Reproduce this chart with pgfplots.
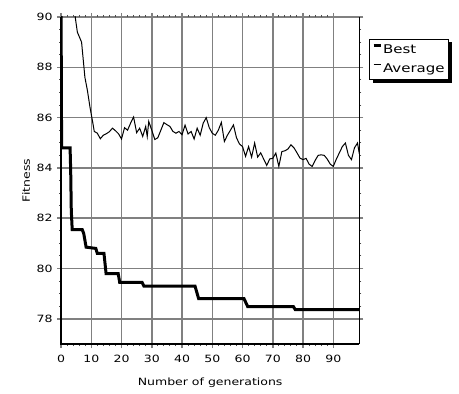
\documentclass[border=0pt]{standalone}
\usepackage{fontspec}
\setmainfont{DejaVu Sans}[FakeStretch=1.25]
\usepackage{pgfplots}
\pgfplotsset{compat=1.18}
\usetikzlibrary{backgrounds}
\definecolor{gridgray}{RGB}{128,128,128}
\begin{document}
\begin{tikzpicture}[x=1bp,y=1bp]
\path[use as bounding box] (0,0) rectangle (459,393);
\begin{axis}[
  name=ax,
  at={(61bp,49bp)}, anchor=south west,
  scale only axis, width=298.3bp, height=327bp,
  xmin=0, xmax=98.6, ymin=77, ymax=90,
  xtick={0,10,...,90}, ytick={78,80,...,90},
  minor x tick num=4, minor y tick num=3,
  tick align=outside,
  major tick length=4bp, minor tick length=2bp,
  every major tick/.style={gridgray, line width=1.5bp},
  every minor tick/.style={black!70, line width=1bp},
  grid=major,
  major grid style={gridgray, line width=1.5bp},
  axis line style={draw=none},
  /pgf/number format/assume math mode=true,
  every tick label/.style={font=\fontsize{10bp}{12bp}\selectfont},
  xticklabel style={yshift=-4bp},
  yticklabel style={xshift=-1bp},
  xlabel={Number of generations},
  ylabel={Fitness},
  xlabel style={font=\fontsize{10bp}{12bp}\selectfont, at={(axis description cs:0.5,0)}, anchor=north, yshift=-30bp},
  ylabel style={font=\fontsize{10bp}{12bp}\selectfont, at={(axis description cs:-0.117,0.5)}, anchor=center},
  legend style={name=leg, at={(rel axis cs:1.033,0.933)}, anchor=north west, draw=black, line width=0.8bp, fill=white,
    font=\fontsize{12bp}{13bp}\selectfont, inner xsep=2.5bp, inner ysep=4.5bp, row sep=6.5bp,
    nodes={inner sep=1bp}},
  legend cell align=left,
  legend image code/.code={\draw[#1] (0bp,4.2bp) -- (7bp,4.2bp);},
]
\addplot[black, line width=3bp, line join=miter] coordinates {
(0,91)(0.2,84.8)(3,84.8)(3.2,83.9)(3.4,82.3)(3.7,81.55)(7,81.55)(7.5,81.4)(8.3,80.85)(11.5,80.8)(12,80.6)(14.2,80.6)(14.9,79.8)(18.9,79.8)(19.4,79.45)(26.8,79.45)(27.4,79.3)(44.3,79.3)(45.5,78.8)(60.5,78.8)(61.7,78.49)(76.8,78.49)(77.4,78.37)(98.6,78.37)
};
\addlegendentry{Best}
\addplot[black, line width=1bp] coordinates {
(0,98)(2,94)(4,91.2)(4.7,90)(5.4,89.4)(6.8,89.0)(7.9,87.6)(8.7,87.1)(9.6,86.4)(10.5,85.8)(11,85.45)
(12,85.38)(13,85.16)(14,85.3)(15,85.36)(16,85.44)(17,85.58)(18,85.48)(19,85.36)(20,85.15)
(21,85.6)(22,85.5)(23,85.78)(24,86.02)(25,85.4)(26,85.58)(27,85.25)(28,85.65)(28.5,85.25)(29,85.85)(30,85.5)
(31,85.13)(32,85.2)(33,85.5)(34,85.8)(35,85.72)(36,85.65)(37,85.45)(38,85.38)(39,85.45)(40,85.32)
(41,85.7)(42,85.35)(43,85.45)(44,85.15)(45,85.58)(46,85.3)(47,85.78)(48,86.0)(49,85.6)(50,85.38)
(51,85.3)(52,85.5)(53,85.81)(54,85.05)(55,85.3)(56,85.5)(57,85.71)(58,85.2)(59,84.95)(60,84.85)
(61,84.46)(62,84.85)(63,84.43)(64,84.99)(65,84.43)(66,84.6)(67,84.35)(68,84.1)(69,84.36)(70,84.38)
(71,84.59)(72,84.06)(73,84.65)(74,84.68)(75,84.75)(76,84.92)(77,84.8)(78,84.6)(79,84.39)(80,84.33)
(81,84.38)(82,84.15)(83,84.06)(84,84.3)(85,84.5)(86,84.52)(87,84.5)(88,84.35)(89,84.15)(90,84.06)
(91,84.35)(92,84.6)(93,84.85)(94,84.99)(95,84.5)(96,84.33)(97,84.8)(98,84.99)(98.6,84.56)
};
\addlegendentry{Average}
\end{axis}
\begin{scope}[on background layer]
\fill[black] ([xshift=3.5bp,yshift=-3.5bp]leg.south west) rectangle ([xshift=3.5bp,yshift=-3.5bp]leg.north east);
\end{scope}
\draw[black, line width=2bp] (ax.north west) -- (ax.south west) -- (ax.south east);
\draw[black, line width=1bp] (ax.south east) -- (ax.north east);
\end{tikzpicture}
\end{document}
